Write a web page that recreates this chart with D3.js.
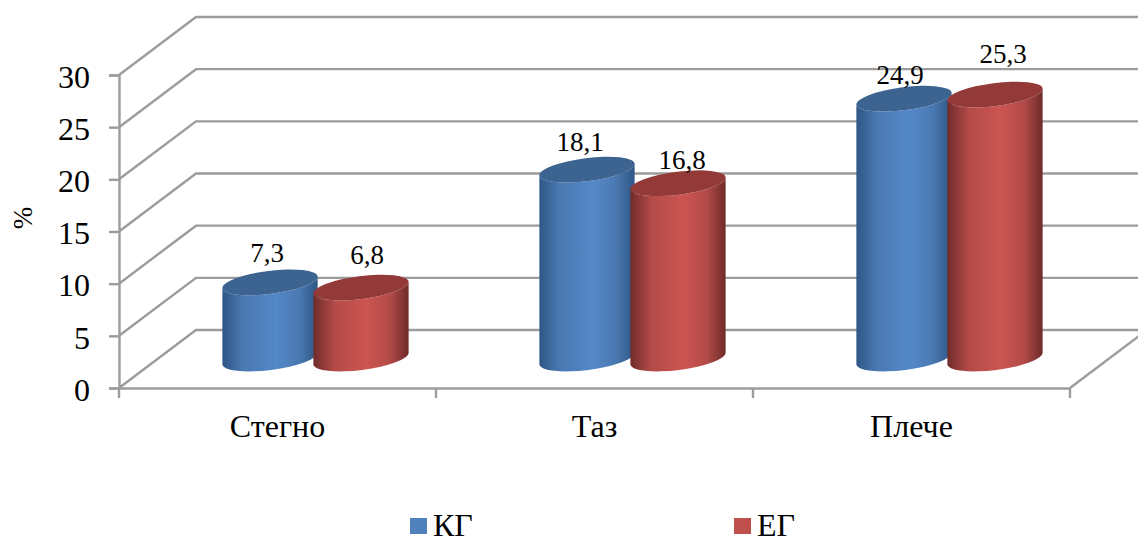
<!DOCTYPE html>
<html>
<head>
<meta charset="utf-8">
<script src="https://cdn.jsdelivr.net/npm/d3@7"></script>
<style>
  html, body { margin: 0; padding: 0; background: #fff; }
  svg { display: block; }
  text { font-family: "Liberation Serif", "Times New Roman", serif; fill: #000; }
</style>
</head>
<body>
<div id="chart"></div>
<script>
const categories = ["Стегно", "Таз", "Плече"];
const seriesNames = ["КГ", "ЕГ"];
const valuesKG = [7.3, 18.1, 24.9];
const valuesEG = [6.8, 16.8, 25.3];
const yTicks = [0, 5, 10, 15, 20, 25, 30];
const seriesColors = {
  "КГ": { edge: "#2f5685", side: "#4a79b2", peak: "#5488c8", top: "#3d6491" },
  "ЕГ": { edge: "#6f2b2a", side: "#b34b48", peak: "#cc5551", top: "#933a38" }
};
// Hand-placed value labels: [dx, gap above the cylinder top], per series then category
const labelNudgeKG = [[-3, 20], [-7, 19], [-4, 15]];
const labelNudgeEG = [[6, 24], [4, 14], [8, 32]];

const width = 1138, height = 537;
const depthX = 77, depthY = 58;   // oblique projection of the chart's depth
const gridColor = "#9c9c9c";

const svg = d3.select("#chart").append("svg")
  .attr("width", width).attr("height", height)
  .attr("viewBox", [0, 0, width, height]);

const x = d3.scaleBand().domain(categories).range([119, 1070]);
const xInner = d3.scaleBand().domain(seriesNames).range([-91, 91]);
const y = d3.scaleLinear().domain([0, 30]).range([388, 75]);

// Back wall, side wall and floor lines
const grid = svg.append("g").attr("fill", "none")
  .attr("stroke", gridColor).attr("stroke-width", 2.4);

grid.selectAll("path.wall").data(yTicks).join("path")
  .attr("class", "wall")
  .attr("d", t => {
    const p = d3.path();
    p.moveTo(x.range()[0], y(t));
    p.lineTo(x.range()[0] + depthX, y(t) - depthY);
    p.lineTo(x.range()[1] + depthX, y(t) - depthY);
    return p.toString();
  });

const floorEdge = d3.path();
floorEdge.moveTo(x.range()[1], y(0));
floorEdge.lineTo(x.range()[1] + depthX, y(0) - depthY);
grid.append("path").attr("d", floorEdge.toString());

// Front axes
const axisLeft = svg.append("g")
  .attr("transform", `translate(${x.range()[0]},0)`)
  .call(d3.axisLeft(y).tickValues(yTicks).tickSize(10).tickPadding(19).tickFormat(d3.format("d")));

const axisBottom = svg.append("g")
  .attr("transform", `translate(0,${y(0)})`)
  .call(d3.axisBottom(x).tickSize(0).tickPadding(26));

[axisLeft, axisBottom].forEach(a => {
  a.select(".domain").attr("stroke", gridColor).attr("stroke-width", 2.4);
  a.selectAll(".tick line").attr("stroke", gridColor).attr("stroke-width", 2.4);
  a.selectAll(".tick text").attr("fill", "#000").attr("font-family", '"Liberation Serif", serif');
});
axisLeft.selectAll(".tick text").attr("font-size", 32).attr("dy", "0.38em");
axisBottom.selectAll(".tick text").attr("font-size", 32);

const bandEdges = categories.map(c => x(c)).concat(x.range()[1]);
axisBottom.selectAll("line.band").data(bandEdges).join("line")
  .attr("class", "band")
  .attr("x1", d => d).attr("x2", d => d)
  .attr("y1", 0).attr("y2", 10)
  .attr("stroke", gridColor).attr("stroke-width", 2.4);

// Shaded gradient across each cylinder's body
const defs = svg.append("defs");
seriesNames.forEach((name, i) => {
  const c = seriesColors[name];
  const g = defs.append("linearGradient").attr("id", "body" + i)
    .attr("x1", "0%").attr("x2", "100%").attr("y1", "0%").attr("y2", "0%");
  [[0, c.edge], [0.22, c.side], [0.56, c.peak], [0.8, c.side], [1, c.edge]].forEach(([o, col]) => {
    g.append("stop").attr("offset", o).attr("stop-color", col);
  });
});

const rx = 48, ry = 11.5, tilt = 7.2;
const cosT = Math.cos(tilt * Math.PI / 180), sinT = Math.sin(tilt * Math.PI / 180);

function cylinderBody(cx, yTop, yBase) {
  const dx = rx * cosT, dy = rx * sinT;
  return `M${cx - dx},${yTop + dy}L${cx - dx},${yBase + dy}` +
    `A${rx},${ry} ${-tilt} 0 0 ${cx + dx},${yBase - dy}` +
    `L${cx + dx},${yTop - dy}` +
    `A${rx},${ry} ${-tilt} 0 1 ${cx - dx},${yTop + dy}Z`;
}

const seriesValues = [valuesKG, valuesEG];
const labelNudges = [labelNudgeKG, labelNudgeEG];
const cylinders = categories.flatMap((cat, ci) => seriesNames.map((name, si) => ({
  cat, name, si, value: seriesValues[si][ci], nudge: labelNudges[si][ci],
  cx: x(cat) + x.bandwidth() / 2 + depthX / 2 - 0.5 + xInner(name) + xInner.bandwidth() / 2
})));

const marks = svg.append("g").selectAll("g").data(cylinders).join("g");
const baseY = y(0) - depthY / 2 - 0.5;
const heightOf = v => y(0) - y(v);

marks.append("path")
  .attr("d", d => cylinderBody(d.cx, baseY - heightOf(d.value), baseY))
  .attr("fill", d => `url(#body${d.si})`);
marks.append("ellipse")
  .attr("cx", d => d.cx).attr("cy", d => baseY - heightOf(d.value))
  .attr("rx", rx).attr("ry", ry)
  .attr("transform", d => `rotate(${-tilt} ${d.cx} ${baseY - heightOf(d.value)})`)
  .attr("fill", d => seriesColors[d.name].top);

// Value labels, comma as the decimal separator
svg.append("g").selectAll("text").data(cylinders).join("text")
  .attr("x", d => d.cx + d.nudge[0])
  .attr("y", d => baseY - heightOf(d.value) - d.nudge[1])
  .attr("text-anchor", "middle")
  .attr("font-size", 27)
  .text(d => String(d.value).replace(".", ","));

// Vertical axis title
svg.append("text")
  .attr("transform", "translate(32,218) rotate(-90)")
  .attr("text-anchor", "middle")
  .attr("font-size", 27)
  .text("%");

// Legend
const legendX = d3.scaleOrdinal().domain(seriesNames).range([410, 734]);
const legend = svg.append("g").selectAll("g").data(seriesNames).join("g")
  .attr("transform", d => `translate(${legendX(d)},518)`);
legend.append("rect").attr("width", 17).attr("height", 16)
  .attr("fill", (d, i) => i === 0 ? "#4f81bd" : "#c0504d");
legend.append("text").attr("x", 23).attr("y", 18)
  .attr("font-size", 32).text(d => d);
</script>
</body>
</html>
